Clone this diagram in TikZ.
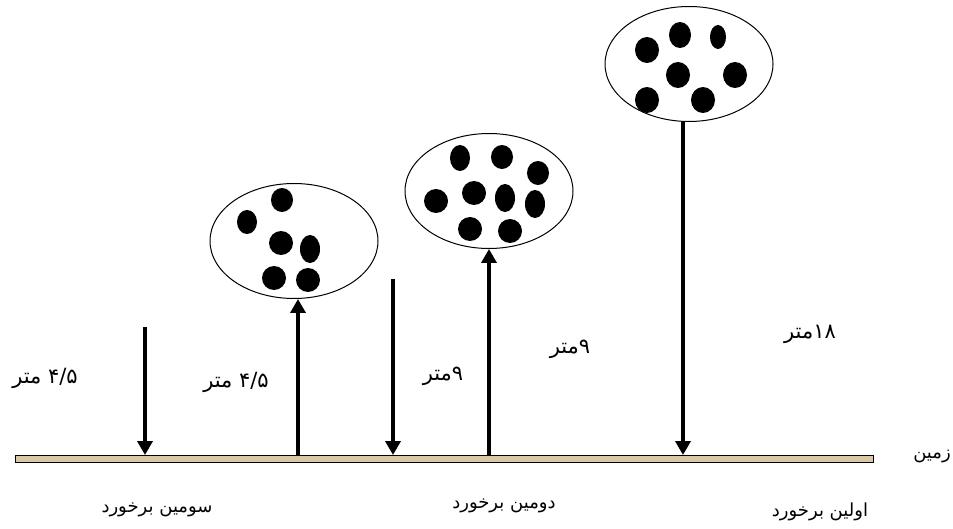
\documentclass[tikz,border=0pt]{standalone}
\usepackage{fontspec}
\newfontfamily\arabicfont[Script=Arabic]{DejaVu Sans}
\TeXXeTstate=1
\usetikzlibrary{shapes.geometric, arrows.meta}
\definecolor{groundtan}{RGB}{216,200,166}

\begin{document}
\begin{tikzpicture}[
    x=1pt, y=-1pt,
    bubble/.style={draw, ellipse, line width=1pt, minimum width=168pt, minimum height=115pt, inner sep=0pt},
    fatext/.style={inner sep=1pt, font=\arabicfont\fontsize{18}{20}\selectfont},
    height/.style={fatext, font=\arabicfont\fontsize{21}{23}\selectfont},
    fall/.style={-{Triangle[length=14pt, width=15pt]}, line width=4pt}
]
    \useasboundingbox (0,0) rectangle (953,529);

    % Ground
    \node[draw, fill=groundtan, minimum width=858pt, minimum height=7pt, inner sep=0pt, anchor=north west] (ground) at (15,455) {};
    \node[fatext] (zamin) at (932,457) {\beginR زمین\endR};

    % Bubbles
    \node[bubble] (e1) at (294,241) {};
    \node[bubble] (e2) at (489,191) {};
    \node[bubble] (e3) at (689,64) {};

    % Drops
    \foreach \cx/\cy/\rx/\ry in {282/200/11/12, 247/222/10/12, 281/243/12/12, 310/249/10/14, 274/278/12/12, 308/280/12/12}
        \fill (\cx,\cy) ellipse [x radius=\rx, y radius=\ry];
    \foreach \cx/\cy/\rx/\ry in {460/158/10/13, 502/157/11/12, 538/173/11/12, 436/201/12/12, 474/193/12/12, 505/198/10/14, 535/204/10/14, 470/229/12/12, 510/231/12/12}
        \fill (\cx,\cy) ellipse [x radius=\rx, y radius=\ry];
    \foreach \cx/\cy/\rx/\ry in {647/50/12/13, 680/35/11/13, 718/37/8/12, 678/75/12/13, 735/75/12/13, 647/100/12/13, 703/100/12/13}
        \fill (\cx,\cy) ellipse [x radius=\rx, y radius=\ry];

    % Arrows
    \coordinate (drop1) at (145,327);
    \coordinate (drop2) at (393,279);
    \draw[fall] ([xshift=-6pt]e3.south) -- ([xshift=-6pt]e3.south |- ground.north);
    \draw[fall] (e2.south |- ground.north) -- (e2.south);
    \draw[fall] (drop2) -- (drop2 |- ground.north);
    \draw[fall] ([xshift=4pt]e1.south |- ground.north) -- ([xshift=4pt]e1.south);
    \draw[fall] (drop1) -- (drop1 |- ground.north);

    % Heights
    \node[height] (h18) at (810,334) {\beginR\beginL ۱۸\endL متر\endR};
    \node[height] (h9b) at (570,349) {\beginR\beginL ۹\endL متر\endR};
    \node[height] (h9a) at (443,376) {\beginR\beginL ۹\endL متر\endR};
    \node[height] (h45b) at (236,382) {\beginR\beginL ۴/۵\endL{} متر\endR};
    \node[height] (h45a) at (45,378) {\beginR\beginL ۴/۵\endL{} متر\endR};

    % Impacts
    \node[fatext] (first) at (820,512) {\beginR اولین برخورد\endR};
    \node[fatext] (second) at (504,506) {\beginR دومین برخورد\endR};
    \node[fatext] (third) at (157,510) {\beginR سومین برخورد\endR};
\end{tikzpicture}
\end{document}
